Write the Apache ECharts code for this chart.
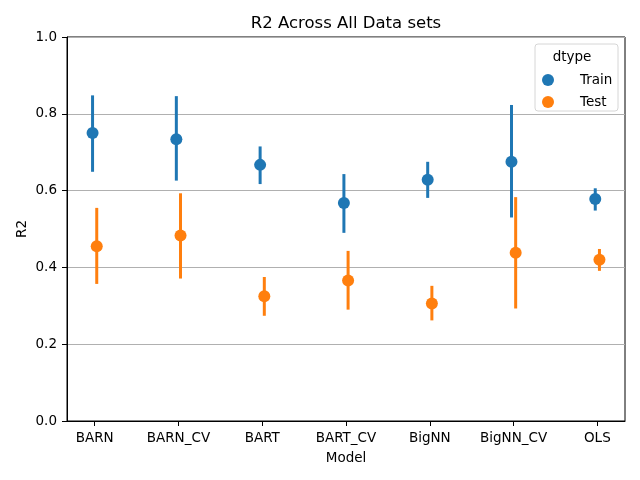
<!DOCTYPE html>
<html>
<head>
<meta charset="utf-8">
<script src="https://cdn.jsdelivr.net/npm/echarts@6/dist/echarts.min.js"></script>
<style>html,body{margin:0;padding:0;background:#fff}#c{width:640px;height:480px}</style>
</head>
<body>
<div id="c"></div>
<script>
const categories = ['BARN','BARN_CV','BART','BART_CV','BigNN','BigNN_CV','OLS'];
const hueNames = ['Train','Test'];
const trainMean = [0.750,0.734,0.667,0.568,0.628,0.675,0.578];
const trainLow  = [0.649,0.626,0.617,0.490,0.581,0.530,0.548];
const trainHigh = [0.848,0.846,0.715,0.643,0.675,0.823,0.606];
const testMean  = [0.455,0.483,0.325,0.366,0.306,0.438,0.420];
const testLow   = [0.357,0.371,0.274,0.290,0.262,0.293,0.391];
const testHigh  = [0.555,0.593,0.375,0.443,0.352,0.583,0.448];
const yTicks = [0,0.2,0.4,0.6,0.8,1.0];

const colors = ['#1f77b4','#ff7f0e'];
const dodge = [-0.025, 0.025];
const font = 'DejaVu Sans';

function pts(mean, k){ return mean.map((v,i)=>[i+dodge[k], v]); }
function bars(lo, hi, k){ return lo.map((v,i)=>[i+dodge[k], v, hi[i]]); }
function errSeries(lo, hi, k){
  return {
    type:'custom', silent:true, z:2,
    data: bars(lo,hi,k),
    encode:{x:0, y:[1,2]},
    renderItem:(params, api)=>{
      const x = api.value(0);
      const a = api.coord([x, api.value(1)]);
      const b = api.coord([x, api.value(2)]);
      return {type:'line', shape:{x1:a[0],y1:a[1],x2:b[0],y2:b[1]}, style:{stroke:colors[k], lineWidth:3}};
    }
  };
}
const idx = categories.map((c,i)=>i);

const chart = echarts.init(document.getElementById('c'), null, {renderer:'canvas'});
chart.setOption({
  animation:false,
  textStyle:{fontFamily:font},
  title:{text:'R2 Across All Data sets', left:346, textAlign:'center', top:15, padding:0,
    textStyle:{fontFamily:font, fontSize:16.5, fontWeight:'normal', color:'#000'}},
  grid:{left:67, right:15, top:37, bottom:59, show:true, borderColor:'#000', borderWidth:1, backgroundColor:'transparent'},
  legend:{
    z:100,
    data:hueNames, orient:'vertical', left:542, top:73, itemWidth:24, itemHeight:12, itemGap:8, padding:0,
    icon:'circle',
    textStyle:{fontFamily:font, fontSize:13.5, color:'#000', padding:[0,0,0,15]}
  },
  graphic:[
    {type:'rect', shape:{x:535, y:44, width:83, height:67, r:3}, style:{fill:'rgba(255,255,255,0.8)', stroke:'#d6d6d6', lineWidth:1}, z:5},
    {type:'text', x:572, y:57, style:{text:'dtype', font:'13.5px "DejaVu Sans"', fill:'#000', align:'center', verticalAlign:'middle'}, z:6}
  ],
  xAxis:{
    type:'value', min:-0.33, max:6.33,
    name:'Model', nameLocation:'middle', nameGap:30,
    nameTextStyle:{fontFamily:font, fontSize:13.5, color:'#000'},
    axisLine:{show:true, onZero:false, lineStyle:{color:'#000', width:1}},
    axisTick:{show:true, length:5, lineStyle:{color:'#000'}, customValues:idx},
    axisLabel:{customValues:idx, formatter:(v)=>categories[Math.round(v)], fontFamily:font, fontSize:13.5, color:'#000', margin:10},
    splitLine:{show:false}
  },
  yAxis:{
    type:'value', min:0, max:1, interval:0.2,
    name:'R2', nameLocation:'middle', nameGap:38, nameMoveOverlap:false,
    nameTextStyle:{fontFamily:font, fontSize:13.5, color:'#000'},
    axisLine:{show:true, onZero:false, lineStyle:{color:'#000', width:1}},
    axisTick:{show:true, length:5, lineStyle:{color:'#000'}},
    axisLabel:{formatter:(v)=>v.toFixed(1), fontFamily:font, fontSize:13.5, color:'#000', margin:10},
    splitLine:{show:true, lineStyle:{color:'#b0b0b0', width:1}}
  },
  series:[
    errSeries(trainLow, trainHigh, 0),
    errSeries(testLow, testHigh, 1),
    {type:'scatter', name:hueNames[0], data:pts(trainMean,0), symbolSize:12, itemStyle:{color:colors[0], opacity:1}, z:3},
    {type:'scatter', name:hueNames[1], data:pts(testMean,1), symbolSize:12, itemStyle:{color:colors[1], opacity:1}, z:3}
  ]
});
</script>
</body>
</html>
